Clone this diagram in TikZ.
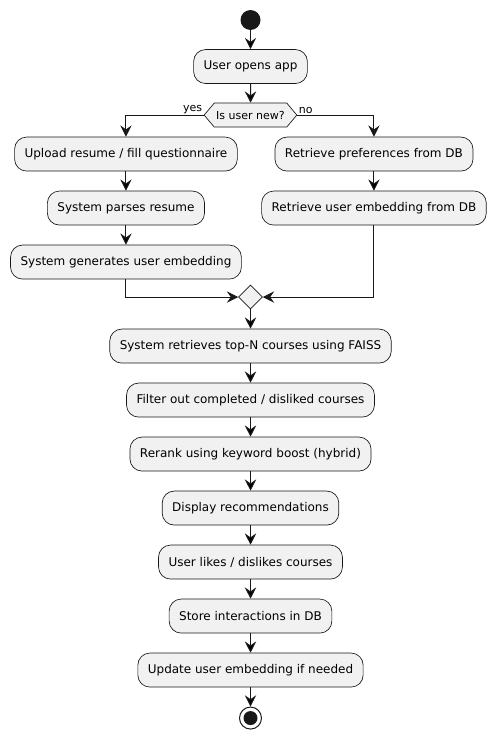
\documentclass[tikz,border=0pt]{standalone}
\usepackage{fontspec}
\setmainfont{DejaVu Sans}
\usetikzlibrary{positioning,arrows.meta,shapes.geometric,shapes.symbols}
\definecolor{actfill}{HTML}{F1F1F1}
\definecolor{actline}{HTML}{181818}
\tikzset{flow/.style={x=0.75pt,y=-0.75pt,node distance=40.5pt,on grid}}
\tikzset{activity/.style={draw=actline,fill=actfill,line width=0.5pt,rounded corners=9pt,
  minimum height=25.5pt,inner xsep=7.5pt,font=\fontsize{9pt}{11pt}\selectfont}}
\tikzset{decision/.style={signal,signal to=west and east,signal pointer angle=100,
  draw=actline,fill=actfill,line width=0.5pt,minimum height=18pt,inner xsep=1.5pt,
  font=\fontsize{8.25pt}{10pt}\selectfont}}
\tikzset{merge/.style={diamond,draw=actline,fill=actfill,line width=0.5pt,minimum size=18pt,inner sep=0pt}}
\tikzset{startnode/.style={circle,fill=actline,minimum size=15pt,inner sep=0pt}}
\tikzset{endnode/.style={circle,draw=actline,fill=white,line width=0.75pt,minimum size=16.5pt,inner sep=0pt,
  path picture={\fill[actline] (path picture bounding box.center) circle (5.25pt);}}}
\tikzset{guard/.style={inner sep=1pt,font=\fontsize{8.25pt}{10pt}\selectfont}}
\tikzset{transition/.style={draw=actline,line width=0.75pt,-{Stealth[length=8.5pt,width=8.5pt,inset=3pt]}}}

\begin{document}
\begin{tikzpicture}[flow]
  \useasboundingbox (0,0) rectangle (497,739);
  \node[startnode] (start) at (250.5,20) {};
  \node[activity] (open) [below=34.9pt of start] {User opens app};
  \node[decision] (new) [below=36.4pt of open] {Is user new?};
  \node[guard,anchor=south east] (yes) at (new.west) {yes};
  \node[guard,anchor=south west] (no) at (new.east) {no};
  % new user
  \node[activity] (upload) [below left=29.25pt and 93.4pt of new] {Upload resume / fill questionnaire};
  \node[activity] (parse) [below=of upload] {System parses resume};
  \node[activity] (gen) [below=of parse] {System generates user embedding};
  % known user
  \node[activity] (prefs) [below right=29.25pt and 92.6pt of new] {Retrieve preferences from DB};
  \node[activity] (fetch) [below=of prefs] {Retrieve user embedding from DB};
  \node[merge] (join) [below=136.5pt of new] {};
  \node[activity] (faiss) [below=36.75pt of join] {System retrieves top-N courses using FAISS};
  \node[activity] (filter) [below=of faiss] {Filter out completed / disliked courses};
  \node[activity] (rerank) [below=of filter] {Rerank using keyword boost (hybrid)};
  \node[activity] (show) [below=of rerank] {Display recommendations};
  \node[activity] (like) [below=of show] {User likes / dislikes courses};
  \node[activity] (store) [below=of like] {Store interactions in DB};
  \node[activity] (update) [below=of store] {Update user embedding if needed};
  \node[endnode] (stop) [below=36pt of update] {};
  \path[transition]
    (start) edge (open)
    (open) edge (new)
    (upload) edge (parse)
    (parse) edge (gen)
    (prefs) edge (fetch)
    (join) edge (faiss)
    (faiss) edge (filter)
    (filter) edge (rerank)
    (rerank) edge (show)
    (show) edge (like)
    (like) edge (store)
    (store) edge (update)
    (update) edge (stop);
  \draw[transition] (new.west) -| (upload.north);
  \draw[transition] (new.east) -| (prefs.north);
  \draw[transition] (gen.south) |- (join.west);
  \draw[transition] (fetch.south) |- (join.east);
\end{tikzpicture}
\end{document}
